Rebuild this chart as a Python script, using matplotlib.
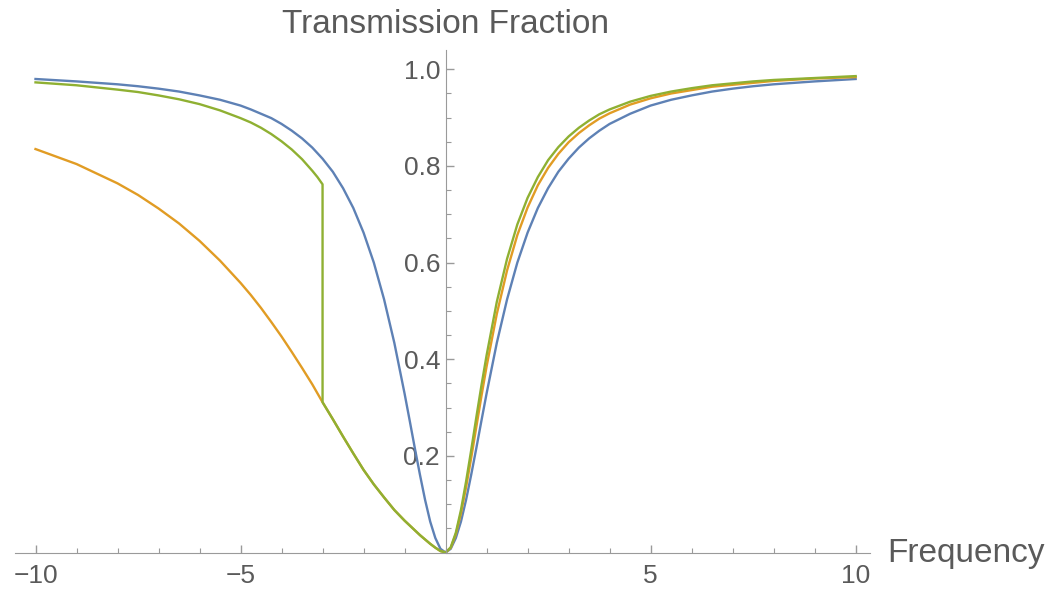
import matplotlib
matplotlib.use("Agg")
import matplotlib.pyplot as plt
from matplotlib.ticker import MultipleLocator, FixedLocator, FixedFormatter

# frequency grid (left half, right half)
freq_left = [-10, -9, -8, -7.5, -7, -6.5, -6, -5.5, -5, -4.75, -4.5, -4.25, -4, -3.75, -3.5,
             -3.25, -3, -2.75, -2.5, -2.25, -2, -1.75, -1.5, -1.25, -1, -0.875, -0.75,
             -0.625, -0.5, -0.375, -0.25, -0.125, 0]
freq_right = [0.125, 0.25, 0.375, 0.5, 0.625, 0.75, 0.875, 1, 1.25, 1.5, 1.75, 2, 2.25, 2.5,
              2.75, 3, 3.25, 3.5, 3.75, 4, 4.5, 5, 5.5, 6, 6.5, 7, 7.5, 8, 9, 10]

# linear case (blue)
blue_left = [0.980, 0.975, 0.969, 0.965, 0.960, 0.954, 0.946, 0.937, 0.925, 0.917, 0.908,
             0.899, 0.887, 0.873, 0.857, 0.838, 0.815, 0.788, 0.754, 0.713, 0.662, 0.600,
             0.524, 0.434, 0.329, 0.273, 0.216, 0.161, 0.109, 0.064, 0.030, 0.0076, 0.0]
blue_right = [0.0076, 0.030, 0.064, 0.109, 0.161, 0.216, 0.273, 0.329, 0.434, 0.524, 0.600,
              0.662, 0.713, 0.754, 0.788, 0.815, 0.838, 0.857, 0.873, 0.887, 0.908, 0.925,
              0.937, 0.946, 0.954, 0.960, 0.965, 0.969, 0.975, 0.980]

# lower branch (orange)
orange_left = [0.835, 0.804, 0.764, 0.740, 0.712, 0.681, 0.645, 0.604, 0.558, 0.533, 0.506,
               0.477, 0.447, 0.415, 0.382, 0.348, 0.311, 0.276, 0.240, 0.205, 0.171, 0.141,
               0.114, 0.088, 0.066, 0.056, 0.046, 0.036, 0.027, 0.018, 0.010, 0.003, 0.0]
orange_right = [0.0097, 0.038, 0.081, 0.135, 0.196, 0.260, 0.324, 0.385, 0.494, 0.584, 0.657,
                0.714, 0.760, 0.796, 0.825, 0.849, 0.868, 0.884, 0.898, 0.909, 0.927, 0.940,
                0.950, 0.957, 0.964, 0.968, 0.972, 0.976, 0.981, 0.984]

# upper branch, drops onto the lower one at -3 (green)
green_freq_left = [-10, -9, -8, -7.5, -7, -6.5, -6, -5.5, -5, -4.75, -4.5, -4.25, -4, -3.75,
                   -3.5, -3.25, -3.125, -3, -3, -2.75, -2.5, -2.25, -2, -1.75, -1.5, -1.25,
                   -1, -0.875, -0.75, -0.625, -0.5, -0.375, -0.25, -0.125, 0]
green_left = [0.973, 0.967, 0.958, 0.953, 0.946, 0.938, 0.928, 0.915, 0.899, 0.890, 0.879,
              0.866, 0.851, 0.834, 0.814, 0.790, 0.777, 0.762, 0.311, 0.276, 0.240, 0.205,
              0.171, 0.141, 0.114, 0.088, 0.066, 0.056, 0.046, 0.036, 0.027, 0.018, 0.010,
              0.003, 0.0]
green_right = [0.0107, 0.041, 0.088, 0.147, 0.212, 0.280, 0.346, 0.408, 0.519, 0.608, 0.679,
               0.734, 0.777, 0.812, 0.839, 0.861, 0.879, 0.894, 0.907, 0.917, 0.933, 0.945,
               0.954, 0.961, 0.967, 0.971, 0.975, 0.978, 0.982, 0.986]

x_ticks = [-10, -5, 5, 10]
x_labels = ['\u221210', '\u22125', '5', '10']
y_ticks = [0.2, 0.4, 0.6, 0.8, 1.0]
y_labels = ['0.2', '0.4', '0.6', '0.8', '1.0']

plt.rcParams['font.family'] = ['Liberation Sans', 'DejaVu Sans']
txt = '#5a5a5a'
axc = '#9a9a9a'

fig = plt.figure(figsize=(10.49, 5.89), dpi=100)
ax = fig.add_axes([15 / 1049, 36.5 / 589, 855 / 1049, 502.5 / 589])

ax.plot(freq_left + freq_right, blue_left + blue_right, color='#5E81B5', lw=1.7)
ax.plot(freq_left + freq_right, orange_left + orange_right, color='#E19C24', lw=1.7)
ax.plot(green_freq_left + freq_right, green_left + green_right, color='#8FB032', lw=1.7)

ax.set_xlim(-10.5, 10.35)
ax.set_ylim(0, 1.04)

# axes cross at the origin, mathematica style
ax.spines['left'].set_position(('data', 0))
ax.spines['bottom'].set_position(('data', 0))
ax.spines['top'].set_visible(False)
ax.spines['right'].set_visible(False)
ax.spines['left'].set_color(axc)
ax.spines['bottom'].set_color(axc)

ax.xaxis.set_major_locator(FixedLocator(x_ticks))
ax.xaxis.set_major_formatter(FixedFormatter(x_labels))
ax.xaxis.set_minor_locator(MultipleLocator(1))
ax.yaxis.set_major_locator(FixedLocator(y_ticks))
ax.yaxis.set_major_formatter(FixedFormatter(y_labels))
ax.yaxis.set_minor_locator(MultipleLocator(0.05))

ax.tick_params(axis='x', which='major', direction='in', length=6, width=1, color=axc,
               labelsize=19, labelcolor=txt, pad=8)
ax.tick_params(axis='x', which='minor', direction='in', length=3.5, width=0.8, color=axc)
ax.tick_params(axis='y', which='major', direction='in', length=6, width=1, color=axc,
               labelsize=19, labelcolor=txt, pad=4)
ax.tick_params(axis='y', which='minor', direction='in', length=3.5, width=0.8, color=axc)

fig.text(887 / 1049, (589 - 562) / 589, 'Frequency', fontsize=24, color=txt,
         ha='left', va='baseline')
fig.text(445.5 / 1049, (589 - 33) / 589, 'Transmission Fraction', fontsize=24, color=txt,
         ha='center', va='baseline')

fig.savefig('out.png', dpi=100)
